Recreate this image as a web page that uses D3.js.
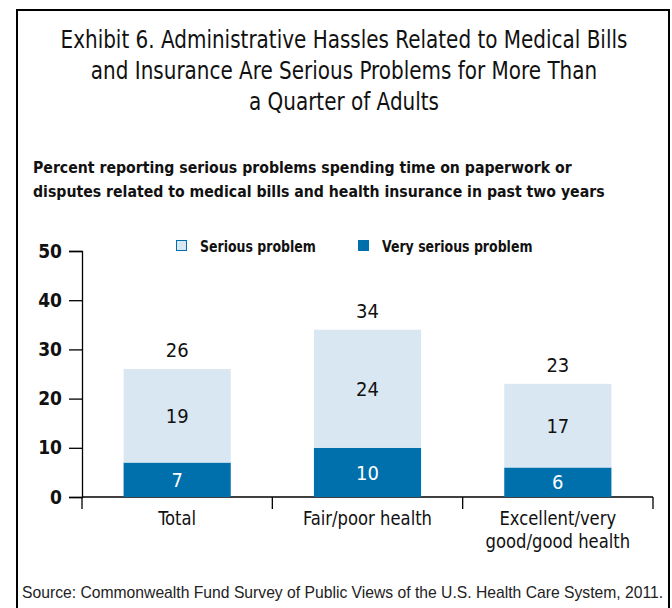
<!DOCTYPE html>
<html>
<head>
<meta charset="utf-8">
<script src="https://cdn.jsdelivr.net/npm/d3@7"></script>
<style>
  html, body { margin: 0; padding: 0; background: #fff; }
  svg { display: block; }
  .cond { font-family: "Liberation Sans Narrow", "DejaVu Sans Condensed", sans-serif; }
</style>
</head>
<body>
<svg id="chart" width="672" height="608"></svg>
<script>
// Survey groups and the two stacked shares (percent of adults)
const categories = ["Total", "Fair/poor health", "Excellent/very good/good health"];
const categoryLines = [["Total"], ["Fair/poor health"], ["Excellent/very", "good/good health"]];
const verySerious = [7, 10, 6];
const serious = [19, 24, 17];
const totals = [26, 34, 23];
const seriesNames = ["Serious problem", "Very serious problem"];
const yTicks = [0, 10, 20, 30, 40, 50];

const titleLines = [
  "Exhibit 6. Administrative Hassles Related to Medical Bills",
  "and Insurance Are Serious Problems for More Than",
  "a Quarter of Adults"
];
const subtitleLines = [
  "Percent reporting serious problems spending time on paperwork or",
  "disputes related to medical bills and health insurance in past two years"
];
const sourceText = "Source: Commonwealth Fund Survey of Public Views of the U.S. Health Care System, 2011.";

const colors = { dark: "#0070ad", light: "#d9e7f2" };

// Squeeze text horizontally to get a narrow gothic look
function condense(sel, factor) {
  sel.each(function () {
    const w = this.getComputedTextLength();
    d3.select(this).attr("textLength", w * factor).attr("lengthAdjust", "spacingAndGlyphs");
  });
}

const svg = d3.select("#chart");

// Outer frame (open at the bottom edge of the page)
svg.append("rect")
  .attr("x", 17).attr("y", 10)
  .attr("width", 652).attr("height", 640)
  .attr("fill", "none").attr("stroke", "#000").attr("stroke-width", 2);

// Title
svg.append("g").attr("class", "cond")
  .selectAll("text").data(titleLines).join("text")
  .attr("x", 344).attr("y", (d, i) => 48 + i * 31)
  .attr("text-anchor", "middle")
  .attr("font-size", 24)
  .attr("fill", "#111")
  .text(d => d)
  .call(condense, 0.925);

// Subtitle
svg.append("g").attr("class", "cond")
  .selectAll("text").data(subtitleLines).join("text")
  .attr("x", 33).attr("y", (d, i) => 173 + i * 24)
  .attr("font-size", 16.5).attr("font-weight", "bold")
  .attr("fill", "#111")
  .text(d => d)
  .call(condense, 0.95);

// Scales
const x = d3.scaleBand().domain(categories).range([82, 653]).paddingInner(0).paddingOuter(0);
const y = d3.scaleLinear().domain([0, 50]).range([497, 251]);
const barW = x.bandwidth() * 0.563;

// Y axis
const yAxis = svg.append("g").attr("transform", "translate(82,0)")
  .call(d3.axisLeft(y).tickValues(yTicks).tickSize(13).tickPadding(7).tickFormat(d3.format("d")));
yAxis.select(".domain").attr("stroke", "#000").attr("stroke-width", 1.3);
yAxis.selectAll(".tick line").attr("stroke", "#000").attr("stroke-width", 1.3);
yAxis.selectAll(".tick text")
  .attr("class", "cond")
  .attr("font-size", 19).attr("font-weight", "bold").attr("fill", "#111");

// X axis baseline with separators between groups
const xAxisG = svg.append("g");
xAxisG.append("line")
  .attr("x1", x.range()[0]).attr("x2", x.range()[1])
  .attr("y1", y(0)).attr("y2", y(0))
  .attr("stroke", "#000").attr("stroke-width", 1.3);
const sepPositions = categories.map(c => x(c)).concat([x.range()[1]]);
xAxisG.selectAll("line.sep").data(sepPositions).join("line")
  .attr("class", "sep")
  .attr("x1", d => d).attr("x2", d => d)
  .attr("y1", y(0)).attr("y2", y(0) + 12)
  .attr("stroke", "#000").attr("stroke-width", 1.3);

// Category labels
categories.forEach((c, i) => {
  svg.append("g").attr("class", "cond")
    .selectAll("text").data(categoryLines[i]).join("text")
    .attr("x", x(c) + x.bandwidth() / 2)
    .attr("y", (d, j) => 525 + j * 23)
    .attr("text-anchor", "middle")
    .attr("font-size", 19)
    .attr("fill", "#111")
    .text(d => d)
    .call(condense, 0.96);
});

// Stacked bars
const stackData = categories.map((c, i) => ({ cat: c, very: verySerious[i], serious: serious[i], total: totals[i] }));
const stack = d3.stack().keys(["very", "serious"])(stackData);
const fills = { very: colors.dark, serious: colors.light };

const barsG = svg.append("g");
stack.forEach(layer => {
  barsG.selectAll(null).data(layer).join("rect")
    .attr("x", d => x(d.data.cat) + (x.bandwidth() - barW) / 2)
    .attr("y", d => y(d[1]))
    .attr("width", barW)
    .attr("height", d => y(d[0]) - y(d[1]))
    .attr("fill", fills[layer.key]);
  barsG.selectAll(null).data(layer).join("text")
    .attr("class", "cond")
    .attr("x", d => x(d.data.cat) + x.bandwidth() / 2)
    .attr("y", d => (y(d[0]) + y(d[1])) / 2)
    .attr("dy", "0.36em")
    .attr("text-anchor", "middle")
    .attr("font-size", 20)
    .attr("fill", layer.key === "very" ? "#fff" : "#111")
    .text(d => d.data[layer.key]);
});

// Total labels above bars
barsG.selectAll("text.total").data(stackData).join("text")
  .attr("class", "cond total")
  .attr("x", d => x(d.cat) + x.bandwidth() / 2)
  .attr("y", d => y(d.total) - 12)
  .attr("text-anchor", "middle")
  .attr("font-size", 20)
  .attr("fill", "#111")
  .text(d => d.total);

// Legend
const legend = svg.append("g").attr("class", "cond");
const legendItems = [
  { name: seriesNames[0], fill: colors.light, stroke: colors.dark, x: 176 },
  { name: seriesNames[1], fill: colors.dark, stroke: colors.dark, x: 358 }
];
legendItems.forEach(it => {
  legend.append("rect")
    .attr("x", it.x + 0.5).attr("y", 240.5)
    .attr("width", 10).attr("height", 10)
    .attr("fill", it.fill).attr("stroke", it.stroke).attr("stroke-width", 1);
  legend.append("text")
    .attr("x", it.x + 24).attr("y", 246).attr("dy", "0.36em")
    .attr("font-size", 16).attr("font-weight", "bold").attr("fill", "#111")
    .text(it.name)
    .call(condense, 0.87);
});

// Source note
svg.append("text")
  .attr("x", 22).attr("y", 598)
  .attr("font-family", "Liberation Sans, Arial, sans-serif")
  .attr("font-size", 15.7).attr("fill", "#222")
  .text(sourceText);
</script>
</body>
</html>
